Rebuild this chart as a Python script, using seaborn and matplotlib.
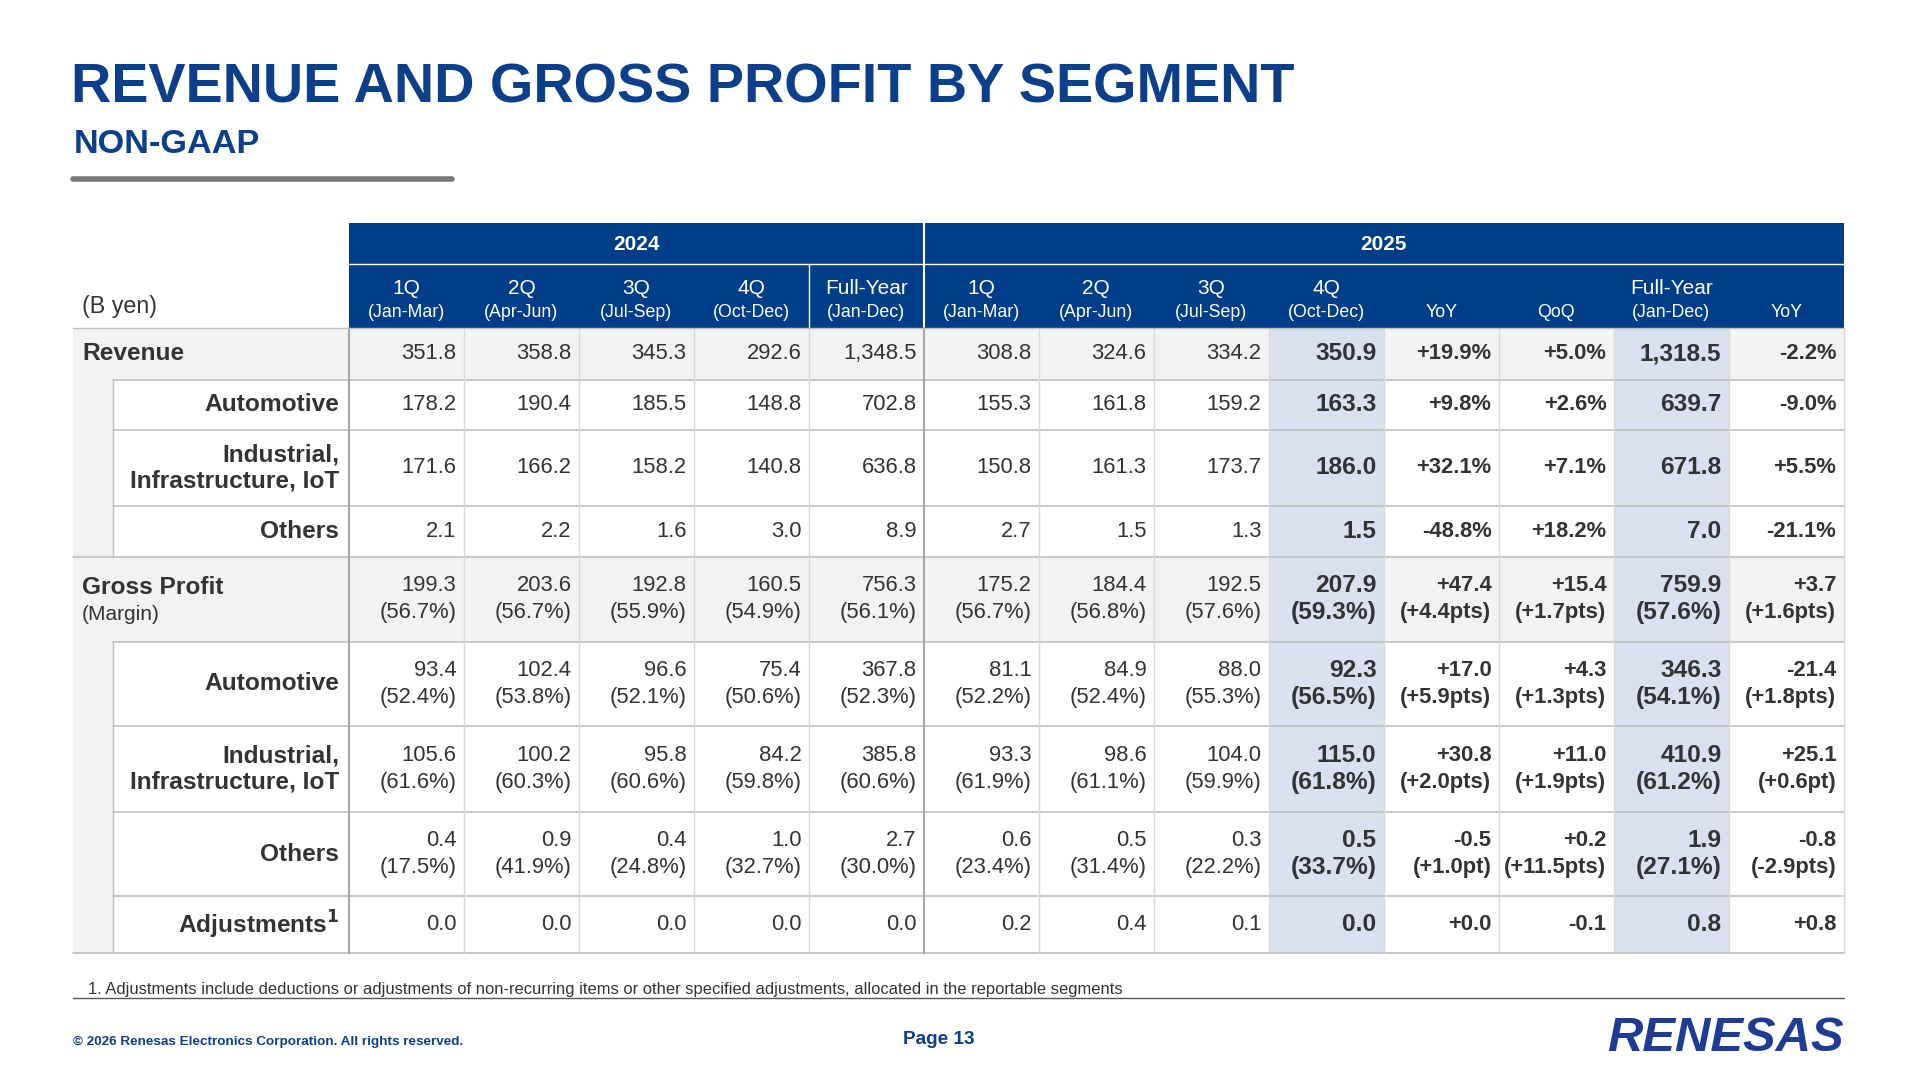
import matplotlib
matplotlib.use("Agg")
import matplotlib.pyplot as plt
from matplotlib.patches import Rectangle
import seaborn as sns

sns.set_theme(style="white")
plt.rcParams['font.family'] = ['Liberation Sans', 'DejaVu Sans']

# data
years = ["2024", "2025"]
col_tops = ["1Q", "2Q", "3Q", "4Q", "Full-Year", "1Q", "2Q", "3Q", "4Q", "", "", "Full-Year", ""]
col_subs = ["(Jan-Mar)", "(Apr-Jun)", "(Jul-Sep)", "(Oct-Dec)", "(Jan-Dec)",
            "(Jan-Mar)", "(Apr-Jun)", "(Jul-Sep)", "(Oct-Dec)", "YoY", "QoQ", "(Jan-Dec)", "YoY"]
row_labels = ["Revenue", "Automotive", "Industrial,\nInfrastructure, IoT", "Others",
              "Gross Profit", "Automotive", "Industrial,\nInfrastructure, IoT", "Others", r"Adjustments$^\mathbf{1}$"]
revenue = [
    ["351.8", "358.8", "345.3", "292.6", "1,348.5", "308.8", "324.6", "334.2", "350.9", "+19.9%", "+5.0%", "1,318.5", "-2.2%"],
    ["178.2", "190.4", "185.5", "148.8", "702.8", "155.3", "161.8", "159.2", "163.3", "+9.8%", "+2.6%", "639.7", "-9.0%"],
    ["171.6", "166.2", "158.2", "140.8", "636.8", "150.8", "161.3", "173.7", "186.0", "+32.1%", "+7.1%", "671.8", "+5.5%"],
    ["2.1", "2.2", "1.6", "3.0", "8.9", "2.7", "1.5", "1.3", "1.5", "-48.8%", "+18.2%", "7.0", "-21.1%"],
]
gp_values = [
    ["199.3", "203.6", "192.8", "160.5", "756.3", "175.2", "184.4", "192.5", "207.9", "+47.4", "+15.4", "759.9", "+3.7"],
    ["93.4", "102.4", "96.6", "75.4", "367.8", "81.1", "84.9", "88.0", "92.3", "+17.0", "+4.3", "346.3", "-21.4"],
    ["105.6", "100.2", "95.8", "84.2", "385.8", "93.3", "98.6", "104.0", "115.0", "+30.8", "+11.0", "410.9", "+25.1"],
    ["0.4", "0.9", "0.4", "1.0", "2.7", "0.6", "0.5", "0.3", "0.5", "-0.5", "+0.2", "1.9", "-0.8"],
    ["0.0", "0.0", "0.0", "0.0", "0.0", "0.2", "0.4", "0.1", "0.0", "+0.0", "-0.1", "0.8", "+0.8"],
]
gp_margins = [
    ["(56.7%)", "(56.7%)", "(55.9%)", "(54.9%)", "(56.1%)", "(56.7%)", "(56.8%)", "(57.6%)", "(59.3%)", "(+4.4pts)", "(+1.7pts)", "(57.6%)", "(+1.6pts)"],
    ["(52.4%)", "(53.8%)", "(52.1%)", "(50.6%)", "(52.3%)", "(52.2%)", "(52.4%)", "(55.3%)", "(56.5%)", "(+5.9pts)", "(+1.3pts)", "(54.1%)", "(+1.8pts)"],
    ["(61.6%)", "(60.3%)", "(60.6%)", "(59.8%)", "(60.6%)", "(61.9%)", "(61.1%)", "(59.9%)", "(61.8%)", "(+2.0pts)", "(+1.9pts)", "(61.2%)", "(+0.6pt)"],
    ["(17.5%)", "(41.9%)", "(24.8%)", "(32.7%)", "(30.0%)", "(23.4%)", "(31.4%)", "(22.2%)", "(33.7%)", "(+1.0pt)", "(+11.5pts)", "(27.1%)", "(-2.9pts)"],
    None,
]

BLUE = "#0B3F8C"
HEAD = "#003E8A"
HL = "#D9E1F0"
GRAY = "#F2F2F2"
LINE = "#BFBFBF"
S = 1920 / 1568
def fs(px):
    return px * S * 0.72

fig = plt.figure(figsize=(19.2, 10.8), dpi=100)
ax = fig.add_axes([0, 0, 1, 1])
ax.set_xlim(0, 1568)
ax.set_ylim(882, 0)
ax.axis("off")

ax.text(58, 72, "REVENUE AND GROSS PROFIT BY SEGMENT", color=BLUE, fontsize=fs(45.5),
        fontweight="bold", va="center")
ax.text(60, 118, "NON-GAAP", color=BLUE, fontsize=fs(28), fontweight="bold", va="center")
ax.plot([60, 369], [146, 146], color="#777777", lw=4)

x0, cw = 285, 93.9
xs = [x0 + i * cw for i in range(14)]
# header
ax.add_patch(Rectangle((x0, 182), xs[13] - x0, 86, color=HEAD, lw=0))
ax.plot([xs[5], xs[5]], [182, 268], color="white", lw=1.5)
ax.plot([x0, xs[13]], [216, 216], color="white", lw=1)
ax.text((x0 + xs[5]) / 2, 200, years[0], color="white", fontsize=fs(17), fontweight="bold", ha="center", va="center")
ax.text((xs[5] + xs[13]) / 2, 200, years[1], color="white", fontsize=fs(17), fontweight="bold", ha="center", va="center")
for i in range(13):
    cx = (xs[i] + xs[i + 1]) / 2
    if col_tops[i]:
        ax.text(cx, 236, col_tops[i], color="white", fontsize=fs(17), ha="center", va="center")
    ax.text(cx, 255, col_subs[i], color="white", fontsize=fs(14.5), ha="center", va="center")
ax.plot([xs[4], xs[4]], [216, 268], color="white", lw=1)
ax.text(67, 250, "(B yen)", color="#333333", fontsize=fs(19), va="center")

# body
edges = [268, 310, 351, 413, 455, 524, 593, 663, 732, 778]
main_rows = {0, 4}
for r in range(9):
    yt, yb = edges[r], edges[r + 1]
    if r in main_rows:
        ax.add_patch(Rectangle((60, yt), xs[13] - 60, yb - yt, color=GRAY, lw=0))
    else:
        ax.add_patch(Rectangle((60, yt), 32, yb - yt, color=GRAY, lw=0))
        ax.plot([92, 92], [yt, yb], color=LINE, lw=1)
    for c in (8, 11):
        ax.add_patch(Rectangle((xs[c], yt), cw, yb - yt, color=HL, lw=0))
    ax.plot([60 if (r + 1) in main_rows or r == 8 else 92, xs[13]], [yb, yb], color=LINE, lw=1.2)

    if r in main_rows:
        ax.text(67, (yt + yb) / 2 - (10 if r == 4 else 0), row_labels[r], fontsize=fs(20),
                fontweight="bold", color="#333333", va="center")
        if r == 4:
            ax.text(67, (yt + yb) / 2 + 12, "(Margin)", fontsize=fs(17), color="#333333", va="center")
    else:
        ax.text(277, (yt + yb) / 2, row_labels[r], fontsize=fs(20), fontweight="bold",
                color="#333333", va="center", ha="right", linespacing=1.15)

    if r < 4:
        vals, margs = revenue[r], None
    else:
        vals, margs = gp_values[r - 4], gp_margins[r - 4]
    for c in range(13):
        bold = c >= 8
        size = 20 if c in (8, 11) else (18 if bold else 18)
        xr = xs[c + 1] - 6
        kw = dict(ha="right", va="center", color="#333333",
                  fontweight="bold" if bold else "normal", fontsize=fs(size))
        if margs is None:
            ax.text(xr, (yt + yb) / 2, vals[c], **kw)
        else:
            ax.text(xr, (yt + yb) / 2 - 11, vals[c], **kw)
            ax.text(xr, (yt + yb) / 2 + 11, margs[c], **kw)

for i in range(14):
    lw, col = (1.5, "#A6A6A6") if i in (0, 5) else (1, "#D9D9D9")
    ax.plot([xs[i], xs[i]], [268, 778], color=col, lw=lw)
ax.plot([60, xs[13]], [268, 268], color=LINE, lw=1)

ax.text(72, 808, "1. Adjustments include deductions or adjustments of non-recurring items or other specified adjustments, allocated in the reportable segments",
        fontsize=fs(13.5), color="#333333", va="center")
ax.plot([60, xs[13]], [815, 815], color="#555555", lw=1)
ax.text(60, 851, "\u00a9 2026 Renesas Electronics Corporation. All rights reserved.", fontsize=fs(11),
        fontweight="bold", color=BLUE, va="center")
ax.text(767, 849, "Page 13", fontsize=fs(15.5), fontweight="bold", color=BLUE, va="center", ha="center")
ax.text(1506, 848, "RENESAS", fontsize=fs(40), fontweight="bold", color="#1E3C96", va="center", ha="right",
        fontstyle="italic")

fig.savefig("out.png", dpi=100)
